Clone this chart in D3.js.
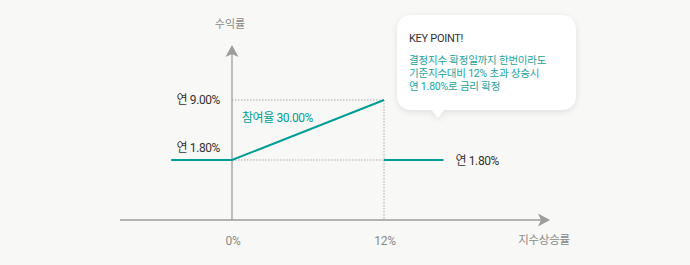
<!DOCTYPE html>
<html>
<head>
<meta charset="utf-8">
<script src="https://cdn.jsdelivr.net/npm/d3@7"></script>
<style>
  html, body { margin: 0; padding: 0; background: #f8f8f6; }
  svg { display: block; font-family: Roboto, "Noto Sans CJK KR", sans-serif; }
</style>
</head>
<body>
<svg id="chart" width="690" height="265"></svg>
<script>
// payoff data: index rise (%) -> annual return (%)
const riseSegment = [[-4.8, 1.8], [0, 1.8], [12, 9.0]];
const knockSegment = [[12, 1.8], [16.7, 1.8]];
const xTicks = [0, 12];
const xTickLabels = ["0%", "12%"];
const yMarks = [9.0, 1.8];
const yMarkLabels = ["연 9.00%", "연 1.80%"];
const participation = "참여율 30.00%";
const knockLabel = "연 1.80%";
const calloutTitle = "KEY POINT!";
const calloutLines = ["결정지수 확정일까지 한번이라도", "기준지수대비 12% 초과 상승시", "연 1.80%로 금리 확정"];

const teal = "#009e96";
const grey = "#9d9d9d";

const svg = d3.select("#chart");

// scales
const x = d3.scaleLinear().domain([-8.84, 25.1]).range([120, 550]);
const y = d3.scaleLinear().domain([-5.4, 15.6]).range([220, 45]);

const x0 = x(0), yBase = y.range()[0];

// dotted guide lines
const g = svg.append("g");
g.append("line")
    .attr("x1", x0).attr("x2", x(12))
    .attr("y1", y(9)).attr("y2", y(9))
    .attr("stroke", "#a8a8a8").attr("stroke-dasharray", "1.5,1.5");
g.append("line")
    .attr("x1", x0).attr("x2", x(12))
    .attr("y1", y(1.8)).attr("y2", y(1.8))
    .attr("stroke", "#a8a8a8").attr("stroke-dasharray", "1.5,1.5");
g.append("line")
    .attr("x1", x(12)).attr("x2", x(12))
    .attr("y1", y(9)).attr("y2", yBase)
    .attr("stroke", "#a8a8a8").attr("stroke-dasharray", "1.5,1.5");

// axes
g.append("line")
    .attr("x1", x.range()[0]).attr("x2", x.range()[1] - 8)
    .attr("y1", yBase).attr("y2", yBase)
    .attr("stroke", grey).attr("stroke-width", 1.3);
g.append("line")
    .attr("x1", x0).attr("x2", x0)
    .attr("y1", yBase).attr("y2", y.range()[1] + 8)
    .attr("stroke", grey).attr("stroke-width", 1.3);

const xe = x.range()[1], yt = y.range()[1];
g.append("path")
    .attr("d", `M${xe},${yBase} L${xe - 12},${yBase - 6.5} L${xe - 9},${yBase} L${xe - 12},${yBase + 6.5} Z`)
    .attr("fill", grey);
g.append("path")
    .attr("d", `M${x0},${yt} L${x0 - 6.5},${yt + 12} L${x0},${yt + 9} L${x0 + 6.5},${yt + 12} Z`)
    .attr("fill", grey);

// payoff lines
const line = d3.line().x(d => x(d[0])).y(d => y(d[1]));
[riseSegment, knockSegment].forEach(seg => {
    g.append("path")
        .datum(seg)
        .attr("d", line)
        .attr("fill", "none")
        .attr("stroke", teal)
        .attr("stroke-width", 2);
});

// labels
g.selectAll(".ymark")
    .data(yMarks)
    .join("text")
    .attr("x", x0 - 12)
    .attr("y", (d, i) => y(d) + (i === 0 ? 4 : -8))
    .attr("text-anchor", "end")
    .attr("font-size", 12)
    .attr("letter-spacing", -0.4)
    .attr("fill", "#333")
    .text((d, i) => yMarkLabels[i]);

g.append("text")
    .attr("x", x0 + 10).attr("y", y(9) + 22)
    .attr("font-size", 12)
    .attr("letter-spacing", -0.4)
    .attr("fill", teal)
    .text(participation);

g.append("text")
    .attr("x", x(16.7) + 12).attr("y", y(1.8) + 4.5)
    .attr("font-size", 12).attr("letter-spacing", -0.4)
    .attr("fill", "#333")
    .text(knockLabel);

g.selectAll(".xtick")
    .data(xTicks)
    .join("text")
    .attr("x", d => x(d) + 1)
    .attr("y", yBase + 25)
    .attr("text-anchor", "middle")
    .attr("font-size", 12)
    .attr("letter-spacing", -0.3)
    .attr("fill", "#888")
    .text((d, i) => xTickLabels[i]);

g.append("text")
    .attr("x", x0 - 2).attr("y", 28)
    .attr("text-anchor", "middle")
    .attr("font-size", 11).attr("fill", "#888")
    .text("수익률");

g.append("text")
    .attr("x", 544).attr("y", yBase + 24)
    .attr("text-anchor", "middle")
    .attr("font-size", 11.5).attr("letter-spacing", -0.3).attr("fill", "#888")
    .text("지수상승률");

// callout bubble
const defs = svg.append("defs");
const f = defs.append("filter").attr("id", "shadow")
    .attr("x", "-20%").attr("y", "-20%").attr("width", "140%").attr("height", "150%");
f.append("feDropShadow")
    .attr("dx", 0).attr("dy", 2).attr("stdDeviation", 3)
    .attr("flood-color", "#000").attr("flood-opacity", 0.1);

const bx = 397, by = 15, bw = 179, bh = 95, r = 16;
const px = 438;
const bubble = `M${bx + r},${by} H${bx + bw - r} Q${bx + bw},${by} ${bx + bw},${by + r}
 V${by + bh - r} Q${bx + bw},${by + bh} ${bx + bw - r},${by + bh}
 H${px + 6} L${px},${by + bh + 8} L${px - 6},${by + bh}
 H${bx + r} Q${bx},${by + bh} ${bx},${by + bh - r}
 V${by + r} Q${bx},${by} ${bx + r},${by} Z`;
svg.append("path")
    .attr("d", bubble)
    .attr("fill", "#fff")
    .attr("filter", "url(#shadow)");

svg.append("text")
    .attr("x", 409).attr("y", 42)
    .attr("font-size", 11).attr("fill", "#333")
    .attr("letter-spacing", -0.3)
    .text(calloutTitle);

svg.selectAll(".cl")
    .data(calloutLines)
    .join("text")
    .attr("x", 409)
    .attr("y", (d, i) => 64 + i * 13)
    .attr("font-size", 10.5)
    .attr("letter-spacing", -0.2)
    .attr("fill", "#1aa39c")
    .text(d => d);
</script>
</body>
</html>
